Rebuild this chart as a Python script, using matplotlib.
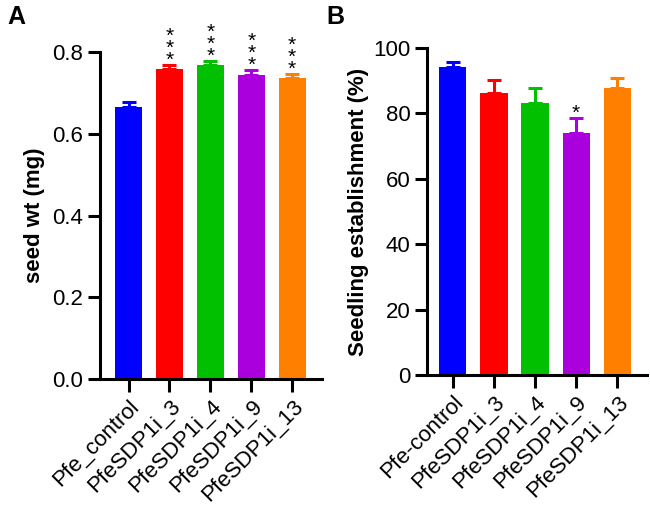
import matplotlib
matplotlib.use("Agg")
import matplotlib.pyplot as plt
import numpy as np

plt.rcParams['font.family'] = ['Liberation Sans', 'DejaVu Sans']

labels_a = ["Pfe_control", "PfeSDP1i_3", "PfeSDP1i_4", "PfeSDP1i_9", "PfeSDP1i_13"]
labels_b = ["Pfe-control", "PfeSDP1i_3", "PfeSDP1i_4", "PfeSDP1i_9", "PfeSDP1i_13"]
colors = ["#0000FF", "#FF0000", "#00C000", "#AA00DD", "#FF8000"]

seed_wt = [0.666, 0.759, 0.768, 0.744, 0.736]
seed_err = [0.012, 0.009, 0.010, 0.012, 0.010]
seed_sig = ["***", "***", "***", "***", "***"]
seed_sig_show = [False, True, True, True, True]

establish = [94.2, 86.2, 83.2, 74.0, 87.8]
establish_err = [1.5, 4.0, 4.6, 4.6, 3.0]
establish_sig = ["", "", "", "*", ""]

fig = plt.figure(figsize=(6.5, 5.05), dpi=100)
axA = fig.add_axes([0.1538, 0.2495, 0.3415, 0.6475])
axB = fig.add_axes([0.657, 0.2574, 0.3385, 0.6475])

def style(ax):
    for s in ["top", "right"]:
        ax.spines[s].set_visible(False)
    for s in ["left", "bottom"]:
        ax.spines[s].set_linewidth(2.2)
    ax.tick_params(axis="both", width=2.2, length=9, labelsize=16, pad=3)

x = np.arange(5)
for ax, vals, errs, labels in [(axA, seed_wt, seed_err, labels_a), (axB, establish, establish_err, labels_b)]:
    style(ax)
    ax.bar(x, vals, width=0.66, color=colors, zorder=2)
    for xi, v, e, c in zip(x, vals, errs, colors):
        ax.errorbar(xi, v, yerr=[[0], [e]], fmt="none", ecolor=c, elinewidth=2.2,
                    capsize=4.8, capthick=2.2, zorder=1)
    ax.set_xticks(x)
    ax.set_xticklabels(labels, rotation=45, ha="right", va="top", rotation_mode="anchor", fontsize=16)
    ax.set_xlim(-0.7, 4.73)

axA.set_ylim(0, 0.8)
axA.set_yticks([0.0, 0.2, 0.4, 0.6, 0.8])
axA.set_yticklabels(["0.0", "0.2", "0.4", "0.6", "0.8"])
axA.set_ylabel("seed wt (mg)", fontsize=16, fontweight="bold", labelpad=5)
for xi, v, e, s, show in zip(x, seed_wt, seed_err, seed_sig, seed_sig_show):
    if show:
        axA.text(xi, v + e - 0.012, "\n".join(s), ha="center", va="bottom", fontsize=15,
                 linespacing=0.55, clip_on=False)

axB.set_xlim(-0.63, 4.73)
axB.set_ylim(0, 100)
axB.set_yticks([0, 20, 40, 60, 80, 100])
axB.set_ylabel("Seedling establishment (%)", fontsize=16, fontweight="bold", labelpad=3)
for xi, v, e, s in zip(x, establish, establish_err, establish_sig):
    if s:
        axB.text(xi, v + e - 1.5, s, ha="center", va="bottom", fontsize=15)

fig.text(0.011, 0.99, "A", fontsize=18, fontweight="bold", va="top")
fig.text(0.502, 0.99, "B", fontsize=18, fontweight="bold", va="top")

fig.savefig("out.png", dpi=100)
